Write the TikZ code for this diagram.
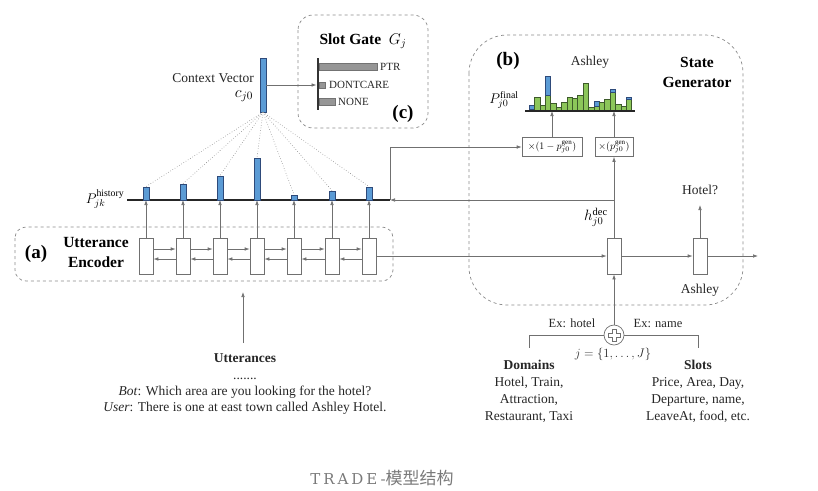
\documentclass[tikz,border=0pt]{standalone}
\usepackage{fix-cm}
\usepackage{fontspec}
\setmainfont{Liberation Serif}
\newfontfamily\cjk{Noto Sans CJK SC}
\newfontfamily\capserif[LetterSpace=20]{DejaVu Serif}
\usetikzlibrary{arrows.meta,calc}
\definecolor{lg}{HTML}{707070}
\definecolor{dg}{HTML}{8A8A8A}
\definecolor{bfill}{HTML}{5B9BD5}
\definecolor{bdraw}{HTML}{2E4A7A}
\definecolor{gfill}{HTML}{8CC65A}
\definecolor{gdraw}{HTML}{3D5A2A}
\definecolor{barg}{HTML}{969696}
\definecolor{capg}{HTML}{7A7A7A}
\tikzset{
  ln/.style={draw=lg, line width=0.7pt},
  arr/.style={ln, -{Latex[length=5pt,width=3.6pt]}},
  cell/.style={draw=lg, line width=0.7pt, fill=white, minimum width=14pt, minimum height=36pt, inner sep=0pt},
  hbar/.style={draw=bdraw, fill=bfill, line width=0.4pt, minimum width=6pt, inner sep=0pt},
  dbox/.style={draw=dg, dashed, line width=0.7pt},
  dot/.style={draw=dg, dotted, line width=0.6pt},
  txt/.style={font=\fontsize{13.5}{17}\selectfont, inner sep=1pt, text=black!85},
  small/.style={font=\fontsize{11}{13}\selectfont, inner sep=1pt, text=black!85},
  bigb/.style={font=\fontsize{19}{22}\selectfont\bfseries, inner sep=1pt},
  headb/.style={font=\fontsize{15.5}{20}\selectfont\bfseries, inner sep=1pt, align=center},
  gbox/.style={draw=lg, line width=0.6pt, fill=white, minimum height=19pt, inner sep=1pt, font=\fontsize{10}{12}\selectfont},
}
\begin{document}
\begin{tikzpicture}[x=1pt,y=-1pt]
\useasboundingbox (0,0) rectangle (818,490);

% ---------- dashed frames ----------
\draw[dbox, rounded corners=15pt] (298,15) rectangle (428,128);
\draw[dbox, rounded corners=11pt] (15,227) rectangle (393,281);
\draw[dbox, rounded corners=38pt] (469,35) rectangle (743,305);

% ---------- context vector ----------
\node[hbar, minimum height=54pt] (cv) at (263,85) {};
\node[txt, anchor=east] (cvt) at (255,78) {Context Vector};
\node[font=\fontsize{16}{18}\selectfont, inner sep=0pt] (cvm) at (244,96) {$c_{j0}$};

% ---------- slot gate ----------
\node[font=\fontsize{15.5}{18}\selectfont, inner sep=1pt] (sg) at (363,41) {\textbf{Slot Gate}\ \ $G_j$};
\coordinate (sgt) at (318,58);
\coordinate (sgb) at (318,110);
\draw[line width=2.2pt, black!80] (sgt) -- (sgb);
\fill[barg, draw=black!55, line width=0.3pt] (319,63) rectangle (377,70);
\fill[barg, draw=black!55, line width=0.3pt] (319,82) rectangle (325,88);
\fill[barg, draw=black!55, line width=0.3pt] (319,98) rectangle (335,105);
\node[small, anchor=west] (ptr) at (379,67) {PTR};
\node[small, anchor=west] (dc) at (328,85) {DONTCARE};
\node[small, anchor=west] (none) at (337,102) {NONE};
\node[bigb] (lc) at (403,114) {(c)};
\coordinate (sgin) at (316.5,85);
\draw[arr] (cv.east |- sgin) -- (sgin);

% ---------- history line ----------
\coordinate (hl) at (127,200);
\coordinate (hr) at (390,200);
\draw[line width=2pt, black!85] (hl) -- (hr);
\node[font=\fontsize{14}{16}\selectfont, inner sep=0pt] (ph) at (105,199) {$P^{\mathrm{history}}_{jk}$};

% ---------- encoder ----------
\node[bigb] (la) at (36,254) {(a)};
\node[headb] (ue) at (96,252) {Utterance\\Encoder};
\foreach \i/\x/\h in {1/146/13, 2/183/16, 3/220/24, 4/257/42, 5/294/5, 6/332/9, 7/369/13}{
  \node[cell] (e\i) at (\x,256) {};
  \node[hbar, minimum height=\h pt, anchor=south] (b\i) at (\x,200) {};
  \draw[dot] (cv.south) -- (b\i.north);
  \draw[arr] (e\i.north) -- (e\i.north |- hl);
}
\foreach \i [evaluate=\i as \j using int(\i+1)] in {1,...,6}{
  \draw[arr] ([yshift=7pt]e\i.east) -- ([yshift=7pt]e\j.west);
  \draw[arr] ([yshift=-3pt]e\j.west) -- ([yshift=-3pt]e\i.east);
}

% ---------- state generator ----------
\node[bigb] (lb) at (508,61) {(b)};
\node[txt] (ash1) at (590,62) {Ashley};
\node[headb] (sgen) at (697,72) {State\\Generator};
\node[font=\fontsize{14}{16}\selectfont, inner sep=0pt] (pf) at (504,100) {$P^{\mathrm{final}}_{j0}$};

\coordinate (fl) at (525,111);
\coordinate (fr) at (635,111);
\foreach \k/\g/\b in {1/109/105, 2/96.7/0, 3/105/0, 4/95/75.7, 5/103/0, 6/106.7/0, 7/102/0, 8/97/0, 9/98/0, 10/95/0, 11/83/0, 12/107/0, 13/106/100.7, 14/101.7/0, 15/99/0, 16/92/89.5, 17/104/0, 18/106/0, 19/99.5/96.7}{
  \pgfmathsetmacro\xl{529+(\k-1)*5.4}
  \filldraw[fill=gfill, draw=gdraw, line width=0.3pt] (\xl,111) rectangle (\xl+5.4,\g);
  \ifdim\b pt>0pt
    \filldraw[fill=bfill, draw=bdraw, line width=0.3pt] (\xl,\g) rectangle (\xl+5.4,\b);
  \fi
}
\draw[line width=1.8pt, black!85] (fl) -- (fr);

\node[gbox, minimum width=60pt] (g1) at (552,147) {$\times(1-p^{\mathrm{gen}}_{j0})$};
\node[gbox, minimum width=38pt] (g2) at (614,147) {$\times(p^{\mathrm{gen}}_{j0})$};
\draw[arr] (g1.north) -- (g1.north |- fl);
\draw[arr] (g2.north) -- (g2.north |- fl);

\node[cell] (d1) at (614,256) {};
\node[cell] (d2) at (700,256) {};
\coordinate (out) at (758,256);
\coordinate (hq) at (700,205);
\draw[arr] (e7.east) -- (d1.west);
\draw[arr] (d1.east) -- (d2.west);
\draw[arr] (d2.east) -- (out);
\draw[arr] (d2.north) -- (hq);
\node[txt] (hotel) at (700,190) {Hotel?};
\node[txt] (ash2) at (700,290) {Ashley};
\draw[arr] (d1.north) -- (g2.south);
\draw[arr] (d1.north |- hr) -- (hr);
\draw[arr] (hr) -- (hr |- g1.west) -- (g1.west);
\node[font=\fontsize{15}{17}\selectfont, inner sep=0pt] (hd) at (596,217) {$h^{\mathrm{dec}}_{j0}$};

% ---------- domain / slot combination ----------
\node[circle, draw=lg, line width=0.7pt, minimum size=20pt, inner sep=0pt] (pl) at (614,335) {};
\draw[lg, line width=0.6pt] (pl) ++(-2,-6) -- ++(4,0) -- ++(0,4) -- ++(4,0) -- ++(0,4) -- ++(-4,0) -- ++(0,4) -- ++(-4,0) -- ++(0,-4) -- ++(-4,0) -- ++(0,-4) -- ++(4,0) -- cycle;
\draw[arr] (pl.north) -- (d1.south);
\coordinate (dm) at (529,348);
\coordinate (sl) at (698,348);
\draw[ln] (pl.west) -- (dm |- pl) -- (dm);
\draw[ln] (pl.east) -- (sl |- pl) -- (sl);
\node[font=\fontsize{12.5}{14}\selectfont, inner sep=1pt, text=black!85] (exh) at (572,323) {Ex: hotel};
\node[font=\fontsize{12.5}{14}\selectfont, inner sep=1pt, text=black!85] (exn) at (658,323) {Ex: name};
\node[font=\fontsize{12.5}{14}\selectfont, inner sep=0pt, text=black!85] (jj) at (613,354) {$j=\{1,\ldots,J\}$};
\node[txt, align=center, anchor=north] (dom) at (529,359) {\textbf{Domains}\\Hotel, Train,\\Attraction,\\Restaurant, Taxi};
\node[txt, align=center, anchor=north] (slots) at (698,359) {\textbf{Slots}\\Price, Area, Day,\\Departure, name,\\LeaveAt, food, etc.};

% ---------- utterances ----------
\node[txt, align=center, anchor=north] (utt) at (245,352) {\textbf{Utterances}\\[0pt] .......\\[-1pt]\textit{Bot}: Which area are you looking for the hotel?\\[-1pt]\textit{User}: There is one at east town called Ashley Hotel.};
\coordinate (ua) at (243,292);
\draw[arr] ([yshift=9pt]utt.north -| ua) -- (ua);

% ---------- caption ----------
\node[font=\fontsize{15}{20}\selectfont, text=capg, inner sep=0pt] (cap) at (382,478) {{\capserif TRADE-}{\cjk\fontsize{17}{20}\selectfont 模型结构}};
\end{tikzpicture}
\end{document}
